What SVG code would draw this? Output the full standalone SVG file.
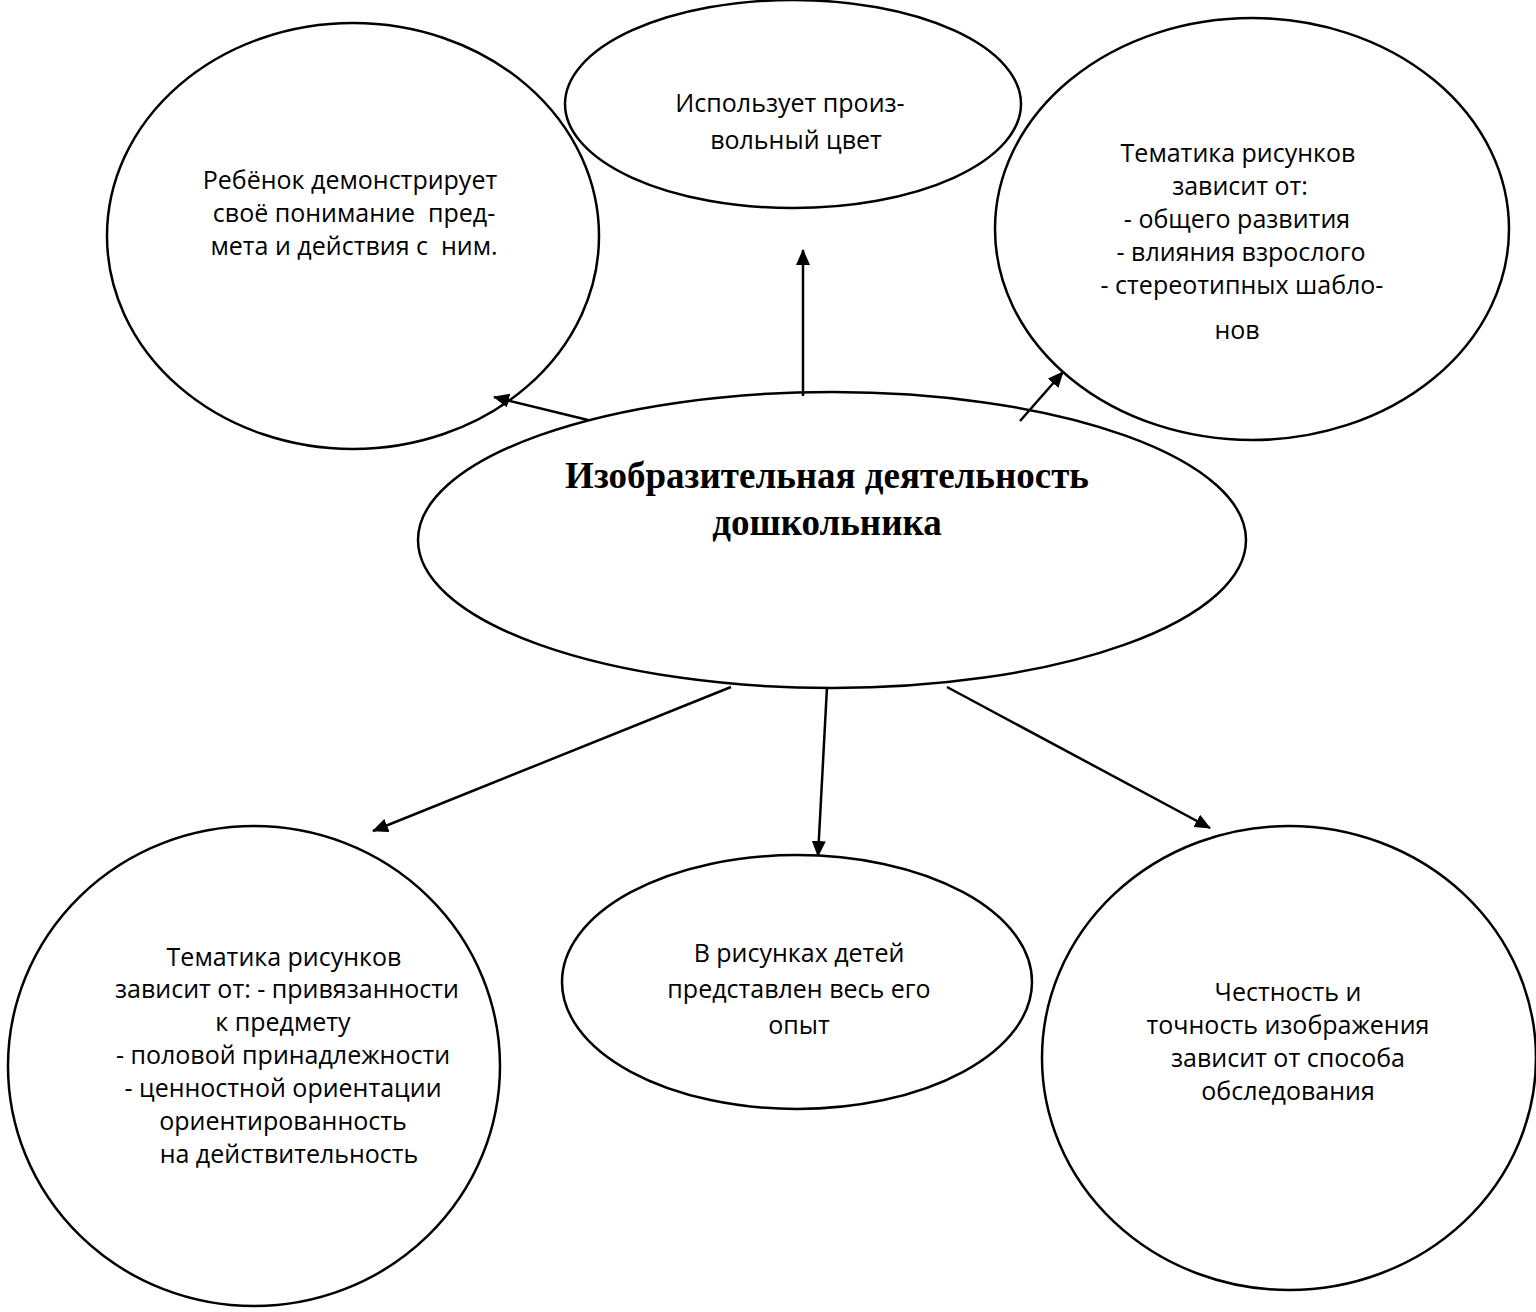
<svg xmlns="http://www.w3.org/2000/svg" width="1536" height="1312" viewBox="0 0 1536 1312">
<style>
.n{fill:#fff;stroke:#000;stroke-width:2.5}
.t{font-family:"Open Sans","Liberation Sans",sans-serif;font-size:25px;fill:#000;text-anchor:middle;white-space:pre}
.h{font-family:"Liberation Serif","Times New Roman",serif;font-size:37px;font-weight:bold;fill:#000;text-anchor:middle}
.c{stroke:#000;stroke-width:2.5;fill:none;marker-end:url(#a)}
</style>
<defs>
<marker id="a" viewBox="0 0 16 14" refX="15" refY="7" markerWidth="16" markerHeight="14" markerUnits="userSpaceOnUse" orient="auto">
<path d="M0,0 L16,7 L0,14 z" fill="#000"/>
</marker>
</defs>
<rect width="1536" height="1312" fill="#fff"/>
<g id="n1"><ellipse class="n" cx="353" cy="236" rx="246" ry="213"/>
<text class="t" x="350" y="189">Ребёнок демонстрирует</text>
<text class="t" x="354" y="222">своё понимание  пред-</text>
<text class="t" x="354" y="255">мета и действия с  ним.</text></g>
<g id="n2"><ellipse class="n" cx="793" cy="104" rx="228" ry="104"/>
<text class="t" x="790" y="112">Использует произ-</text>
<text class="t" x="796" y="149">вольный цвет</text></g>
<g id="n3"><ellipse class="n" cx="1252" cy="229" rx="257" ry="211"/>
<text class="t" x="1238" y="162">Тематика рисунков</text>
<text class="t" x="1240" y="195">зависит от:</text>
<text class="t" x="1237" y="228">- общего развития</text>
<text class="t" x="1241" y="261">- влияния взрослого</text>
<text class="t" x="1242" y="294">- стереотипных шабло-</text>
<text class="t" x="1237" y="339">нов</text></g>
<g id="n0"><ellipse class="n" cx="832" cy="540" rx="414" ry="148"/>
<text class="h" x="827" y="488">Изобразительная деятельность</text>
<text class="h" x="827" y="535">дошкольника</text></g>
<g id="n4"><ellipse class="n" cx="254" cy="1066" rx="246" ry="240"/>
<text class="t" x="284" y="966">Тематика рисунков</text>
<text class="t" x="287" y="998">зависит от: - привязанности</text>
<text class="t" x="283" y="1031">к предмету</text>
<text class="t" x="283" y="1064">- половой принадлежности</text>
<text class="t" x="283" y="1097">- ценностной ориентации</text>
<text class="t" x="283" y="1130">ориентированность</text>
<text class="t" x="289" y="1163">на действительность</text></g>
<g id="n5"><ellipse class="n" cx="797" cy="982" rx="235" ry="127"/>
<text class="t" x="799" y="962">В рисунках детей</text>
<text class="t" x="799" y="998">представлен весь его</text>
<text class="t" x="799" y="1034">опыт</text></g>
<g id="n6"><ellipse class="n" cx="1289" cy="1058" rx="247" ry="232"/>
<text class="t" x="1288" y="1001">Честность и</text>
<text class="t" x="1288" y="1034">точность изображения</text>
<text class="t" x="1288" y="1067">зависит от способа</text>
<text class="t" x="1288" y="1100">обследования</text></g>
<g id="connectors">
<line class="c" x1="588" y1="420" x2="494" y2="397"/>
<line class="c" x1="803" y1="396" x2="803" y2="250"/>
<line class="c" x1="1020" y1="421" x2="1063" y2="372"/>
<line class="c" x1="731" y1="687" x2="373" y2="831"/>
<line class="c" x1="827" y1="687" x2="818" y2="856"/>
<line class="c" x1="947" y1="687" x2="1210" y2="828"/>
</g>
</svg>
